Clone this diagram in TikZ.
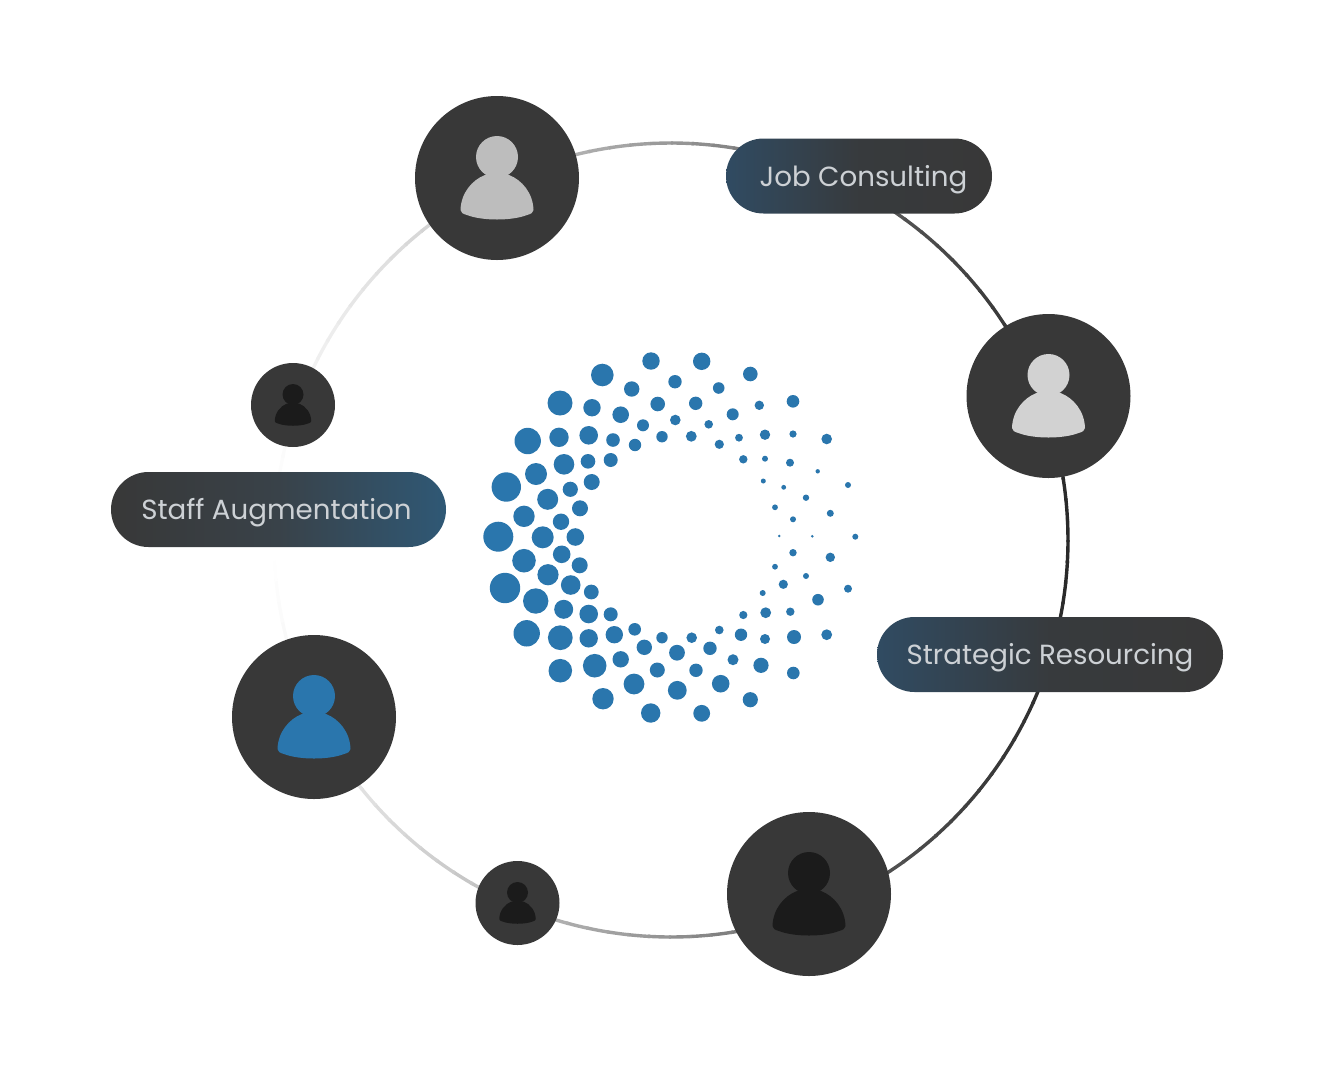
\documentclass[tikz,border=0pt]{standalone}
\usepackage{xcolor}
\usepackage{fontspec}
\setmainfont{Poppins}
\usetikzlibrary{shapes}
\usetikzlibrary{positioning}
\definecolor{disc}{HTML}{383838}
\definecolor{ringdark}{HTML}{2A2A2A}
\definecolor{dotblue}{HTML}{2A76AD}
\definecolor{pillblue}{HTML}{2F5875}
\definecolor{pillsteel}{HTML}{304B62}
\definecolor{pillmid}{HTML}{394249}
\definecolor{pilltext}{HTML}{CDD1D5}
\definecolor{iconpale}{HTML}{D2D2D2}
\definecolor{icongrey}{HTML}{BDBDBD}
\definecolor{icondark}{HTML}{1B1B1B}

\tikzset{
  bigdisc/.style={circle,fill=disc,inner sep=0pt,minimum size=164pt},
  smalldisc/.style={circle,fill=disc,inner sep=0pt,minimum size=84pt},
  pill/.style={rounded rectangle,inner sep=0pt,minimum height=75pt,text=pilltext,
    text height=20pt,text depth=0pt,font=\fontsize{27.7}{32}\selectfont},
  pill from left/.style={pill,left color=pillsteel,right color=disc,middle color=disc!88!pillsteel},
  pill from right/.style={pill,left color=disc,right color=pillblue,middle color=pillmid},
  person/.pic={
    \fill[#1] (0,-21) circle[radius=21pt];
    \fill[#1] (-36.5,32) .. controls (-36,15) and (-25,2) .. (-12,-3) -- (12,-3)
      .. controls (25,2) and (36,15) .. (36.5,32)
      .. controls (36.5,34.5) and (34,36) .. (30,37)
      .. controls (15,43) and (-15,43) .. (-30,37)
      .. controls (-34,36) and (-36.5,34.5) .. cycle;
  }
}

\begin{document}
\begin{tikzpicture}[x=1pt,y=-1pt]
  \useasboundingbox (0,0) rectangle (1334,1080);

  \foreach \a in {0,3,...,357} {
    \pgfmathsetmacro\d{min(\a,360-\a)/180}
    \pgfmathsetmacro\t{\d<0.5 ? 100*(1-2*\d*\d) : 50*(2-2*\d)^1.6}
    \draw[line width=3.4pt,draw=ringdark!\t!white] (671,540) ++(\a:397)
      arc[start angle=\a,delta angle=3.3,radius=397];
  }

  \foreach \x/\y/\r in {
    651/361/8.7, 602.3/375/11.3, 631.7/389/7.7, 560/403/12.5, 592/407.7/8.7,
    620.7/414.7/8.3, 657.7/404/7.3, 643/425.3/6, 662/436.7/5.7, 527.7/441/13.2,
    559/437.3/9.7, 588.7/435.3/9.3, 613/440/6.8, 635/445/6.2, 564/464.3/10.3,
    588/461.3/7.3, 610.7/460/7, 536/474/11, 506.3/487/14.7, 591.7/482/8,
    570.3/489.3/7.6, 547.7/499.3/10.5, 524/516.3/10.7, 580/508.3/8, 561/521.7/8.2,
    498.3/536.7/15, 542.7/537.3/11, 575.3/537/8.8, 524/560.7/11.8, 561.7/554.3/8.8,
    579.7/565.3/8, 548/574.7/10.6, 505/588/15.2, 570.7/585/9.8, 591.3/592/7.4,
    535.7/601/12.7, 563.7/609.3/9.5, 588.7/614/9.3, 610.7/614.3/7, 526.7/633.3/13.2,
    560.3/637.7/12.4, 588.7/638.3/9.2, 614.3/634.7/8.7, 634.7/629.3/6.3, 662/637.7/5.7,
    644.3/647.3/7.7, 620.7/659.3/8.2, 594.7/665.7/11.8, 560.3/670.7/11.8, 657.3/670/7.5,
    634/684/10.4, 603/698.7/10.7, 650.7/713/9.7, 701.7/361.3/8.7, 750.3/374/7.3,
    675/381.7/6.7, 718.7/388/5.8, 695.7/403.3/6.7, 759.3/405.3/4.7, 793/401.3/6.3,
    732.7/414.3/6, 675.3/420/5.3, 708.7/424.3/4.3, 691.3/436.3/5.4, 739/437.7/3.9,
    765/434.7/5.2, 793/434/3.6, 826.7/439/5.3, 719.3/444.3/4.6, 743.3/459.3/4.2,
    765/458.7/3, 790/462.7/4, 817.7/471.3/2.2, 763.3/481/2.5, 783.7/487.3/2.4,
    848/485/3, 806/497.7/3.2, 775/507.3/2.9, 830.3/513.3/3.5, 793/519.3/3,
    779.3/536/1.4, 812.3/536.3/1.4, 855.3/536.7/3, 793/552.7/3.7, 830.3/557.3/4.7,
    775/566.7/2.9, 806/576/3, 783.3/584.3/4.6, 848/588.7/4, 762.7/593/3,
    818/599.7/5.8, 743.3/615/4.1, 765.7/612.7/5.4, 790.3/611.7/4.2, 719.3/630/4.3,
    741/634.7/6.2, 765/639/5, 794/637/7, 826.7/634.7/5.4, 691.7/637.7/5.3,
    710/648.3/6.7, 677/652.7/7.9, 733/659.7/5.5, 761/665.3/7.6, 793.3/673/6.3,
    696/670.3/6.7, 720.7/683.7/8.8, 677.3/690.3/9.4, 750.3/699.7/7.6, 701.7/713.3/8.4}
    \fill[dotblue] (\x,\y) circle[radius=\r pt];

  \node[bigdisc] (top) at (497,178) {};
  \node[bigdisc] (east) at (1048.5,396) {};
  \node[bigdisc] (west) at (314,717) {};
  \node[bigdisc] (south) at (809,894) {};
  \node[smalldisc] (northwest) at (293,405) {};
  \node[smalldisc] (southwest) at (517.5,903) {};

  \pic at (top) {person=icongrey};
  \pic at (east) {person=iconpale};
  \pic at (west) {person=dotblue};
  \pic at (south) {person=icondark};
  \pic[scale=0.5] at (northwest) {person=icondark};
  \pic[scale=0.5] at (southwest) {person=icondark};

  \node[pill from left,minimum width=266pt] (job) at (859,176) {\hspace*{9pt}Job Consulting};
  \node[pill from right,minimum width=335pt] (staff) at (278.5,509.5) {Staff Augmentation\hspace*{4pt}};
  \node[pill from left,minimum width=346pt] (strategic) at (1050,654.5) {Strategic Resourcing};
\end{tikzpicture}
\end{document}
